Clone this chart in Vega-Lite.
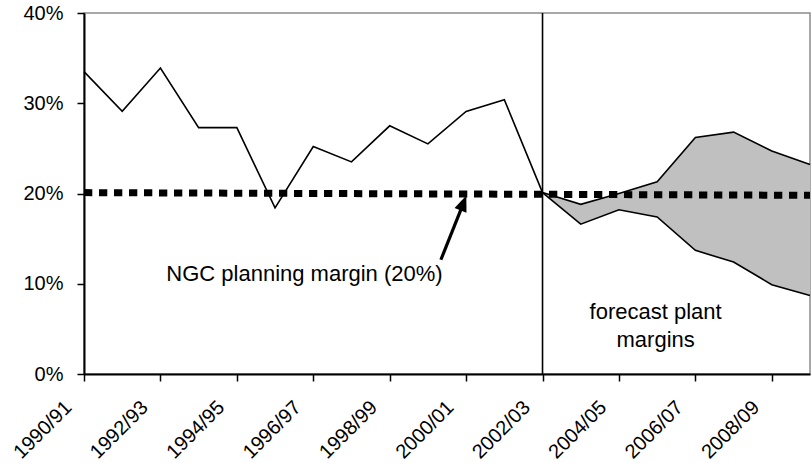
{
  "$schema": "https://vega.github.io/schema/vega-lite/v6.json",
  "width": 726,
  "height": 361,
  "autosize": {"type": "none"},
  "padding": {"left": 84, "top": 13, "right": 1, "bottom": 89},
  "background": "white",
  "config": {"view": {"stroke": "#8c8c8c", "strokeWidth": 1.5}, "font": "Liberation Sans"},
  "datasets": {
    "series": [
      {"year": 1990, "actual": 33.5, "upper": null, "lower": null},
      {"year": 1991, "actual": 29.1, "upper": null, "lower": null},
      {"year": 1992, "actual": 33.9, "upper": null, "lower": null},
      {"year": 1993, "actual": 27.3, "upper": null, "lower": null},
      {"year": 1994, "actual": 27.3, "upper": null, "lower": null},
      {"year": 1995, "actual": 18.4, "upper": null, "lower": null},
      {"year": 1996, "actual": 25.2, "upper": null, "lower": null},
      {"year": 1997, "actual": 23.5, "upper": null, "lower": null},
      {"year": 1998, "actual": 27.5, "upper": null, "lower": null},
      {"year": 1999, "actual": 25.5, "upper": null, "lower": null},
      {"year": 2000, "actual": 29.1, "upper": null, "lower": null},
      {"year": 2001, "actual": 30.4, "upper": null, "lower": null},
      {"year": 2002, "actual": 20.1, "upper": 20.1, "lower": 20.1},
      {"year": 2003, "actual": null, "upper": 18.8, "lower": 16.6},
      {"year": 2004, "actual": null, "upper": 20.0, "lower": 18.2},
      {"year": 2005, "actual": null, "upper": 21.3, "lower": 17.4},
      {"year": 2006, "actual": null, "upper": 26.2, "lower": 13.7},
      {"year": 2007, "actual": null, "upper": 26.8, "lower": 12.4},
      {"year": 2008, "actual": null, "upper": 24.7, "lower": 9.9},
      {"year": 2009, "actual": null, "upper": 23.2, "lower": 8.7}
    ],
    "planning": [
      {"year": 1990, "pct": 20.1},
      {"year": 2009, "pct": 19.8}
    ],
    "arrow": [
      {"year": 1999.34, "pct": 12.66},
      {"year": 1999.9, "pct": 18.6}
    ],
    "arrowhead": [
      {"year": 1999.93, "pct": 18.95}
    ],
    "notes": [
      {"year": 1995.77, "pct": 10.34, "label": "NGC planning margin (20%)"},
      {"year": 2004.96, "pct": 6.09, "label": "forecast plant\nmargins"}
    ]
  },
  "layer": [
    {
      "data": {"name": "series"},
      "transform": [{"filter": "datum.upper != null"}],
      "mark": {"type": "area", "color": "#c0c0c0", "opacity": 1},
      "encoding": {
        "x": {
          "field": "year", "type": "quantitative", "title": null,
          "scale": {"domain": [1990, 2009], "nice": false, "zero": false},
          "axis": {
            "values": [1990, 1992, 1994, 1996, 1998, 2000, 2002, 2004, 2006, 2008],
            "labelExpr": "datum.value + '/' + substring(toString(datum.value + 1), 2, 4)",
            "labelAngle": -45, "labelAlign": "right", "labelBaseline": "middle",
            "labelOffset": -16, "labelPadding": 23, "tickSize": 7, "tickColor": "black",
            "tickWidth": 1.5, "domainColor": "black", "domainWidth": 2, "grid": false,
            "labelFont": "Liberation Sans", "labelFontSize": 20, "labelColor": "black",
            "labelOverlap": false, "labelFlush": false, "labelBound": false, "zindex": 1
          }
        },
        "y": {
          "field": "lower", "type": "quantitative", "title": null,
          "scale": {"domain": [0, 40], "nice": false, "zero": false},
          "axis": {
            "values": [0, 10, 20, 30, 40],
            "labelExpr": "datum.value + '%'",
            "tickSize": 7, "tickColor": "black", "tickWidth": 1.5,
            "domainColor": "black", "domainWidth": 2, "grid": false,
            "labelPadding": 14, "labelFont": "Liberation Sans", "labelFontSize": 20,
            "labelColor": "black", "labelOverlap": false, "labelFlush": false, "labelBound": false, "zindex": 1
          }
        },
        "y2": {"field": "upper"}
      }
    },
    {
      "data": {"name": "series"},
      "transform": [{"filter": "datum.upper != null"}],
      "mark": {"type": "line", "color": "black", "strokeWidth": 1.6},
      "encoding": {
        "x": {"field": "year", "type": "quantitative", "title": null, "scale": {"domain": [1990, 2009], "nice": false, "zero": false}},
        "y": {"field": "upper", "type": "quantitative", "title": null, "scale": {"domain": [0, 40], "nice": false, "zero": false}}
      }
    },
    {
      "data": {"name": "series"},
      "transform": [{"filter": "datum.lower != null"}],
      "mark": {"type": "line", "color": "black", "strokeWidth": 1.6},
      "encoding": {
        "x": {"field": "year", "type": "quantitative", "title": null, "scale": {"domain": [1990, 2009], "nice": false, "zero": false}},
        "y": {"field": "lower", "type": "quantitative", "title": null, "scale": {"domain": [0, 40], "nice": false, "zero": false}}
      }
    },
    {
      "data": {"name": "series"},
      "transform": [{"filter": "datum.actual != null"}],
      "mark": {"type": "line", "color": "black", "strokeWidth": 1.6},
      "encoding": {
        "x": {"field": "year", "type": "quantitative", "title": null, "scale": {"domain": [1990, 2009], "nice": false, "zero": false}},
        "y": {"field": "actual", "type": "quantitative", "title": null, "scale": {"domain": [0, 40], "nice": false, "zero": false}}
      }
    },
    {
      "data": {"values": [{"year": 2002}]},
      "mark": {"type": "rule", "color": "black", "strokeWidth": 1.6},
      "encoding": {
        "x": {"field": "year", "type": "quantitative", "title": null, "scale": {"domain": [1990, 2009], "nice": false, "zero": false}}
      }
    },
    {
      "data": {"name": "planning"},
      "mark": {"type": "line", "color": "black", "strokeWidth": 7, "strokeDash": [8.3, 6.7], "strokeCap": "butt"},
      "encoding": {
        "x": {"field": "year", "type": "quantitative", "title": null, "scale": {"domain": [1990, 2009], "nice": false, "zero": false}},
        "y": {"field": "pct", "type": "quantitative", "title": null, "scale": {"domain": [0, 40], "nice": false, "zero": false}}
      }
    },
    {
      "data": {"name": "arrow"},
      "mark": {"type": "line", "color": "black", "strokeWidth": 3.2, "strokeCap": "butt"},
      "encoding": {
        "x": {"field": "year", "type": "quantitative", "title": null, "scale": {"domain": [1990, 2009], "nice": false, "zero": false}},
        "y": {"field": "pct", "type": "quantitative", "title": null, "scale": {"domain": [0, 40], "nice": false, "zero": false}}
      }
    },
    {
      "data": {"name": "arrowhead"},
      "mark": {"type": "point", "shape": "M0,-1L-0.8,1L0.8,1Z", "size": 256, "angle": 21.5, "filled": true, "color": "black", "opacity": 1},
      "encoding": {
        "x": {"field": "year", "type": "quantitative", "title": null, "scale": {"domain": [1990, 2009], "nice": false, "zero": false}},
        "y": {"field": "pct", "type": "quantitative", "title": null, "scale": {"domain": [0, 40], "nice": false, "zero": false}}
      }
    },
    {
      "data": {"name": "notes"},
      "mark": {"type": "text", "font": "Liberation Sans", "fontSize": 22, "color": "black", "align": "center", "baseline": "alphabetic", "lineBreak": "\n", "lineHeight": 28},
      "encoding": {
        "x": {"field": "year", "type": "quantitative", "title": null, "scale": {"domain": [1990, 2009], "nice": false, "zero": false}},
        "y": {"field": "pct", "type": "quantitative", "title": null, "scale": {"domain": [0, 40], "nice": false, "zero": false}},
        "text": {"field": "label"}
      }
    }
  ]
}
